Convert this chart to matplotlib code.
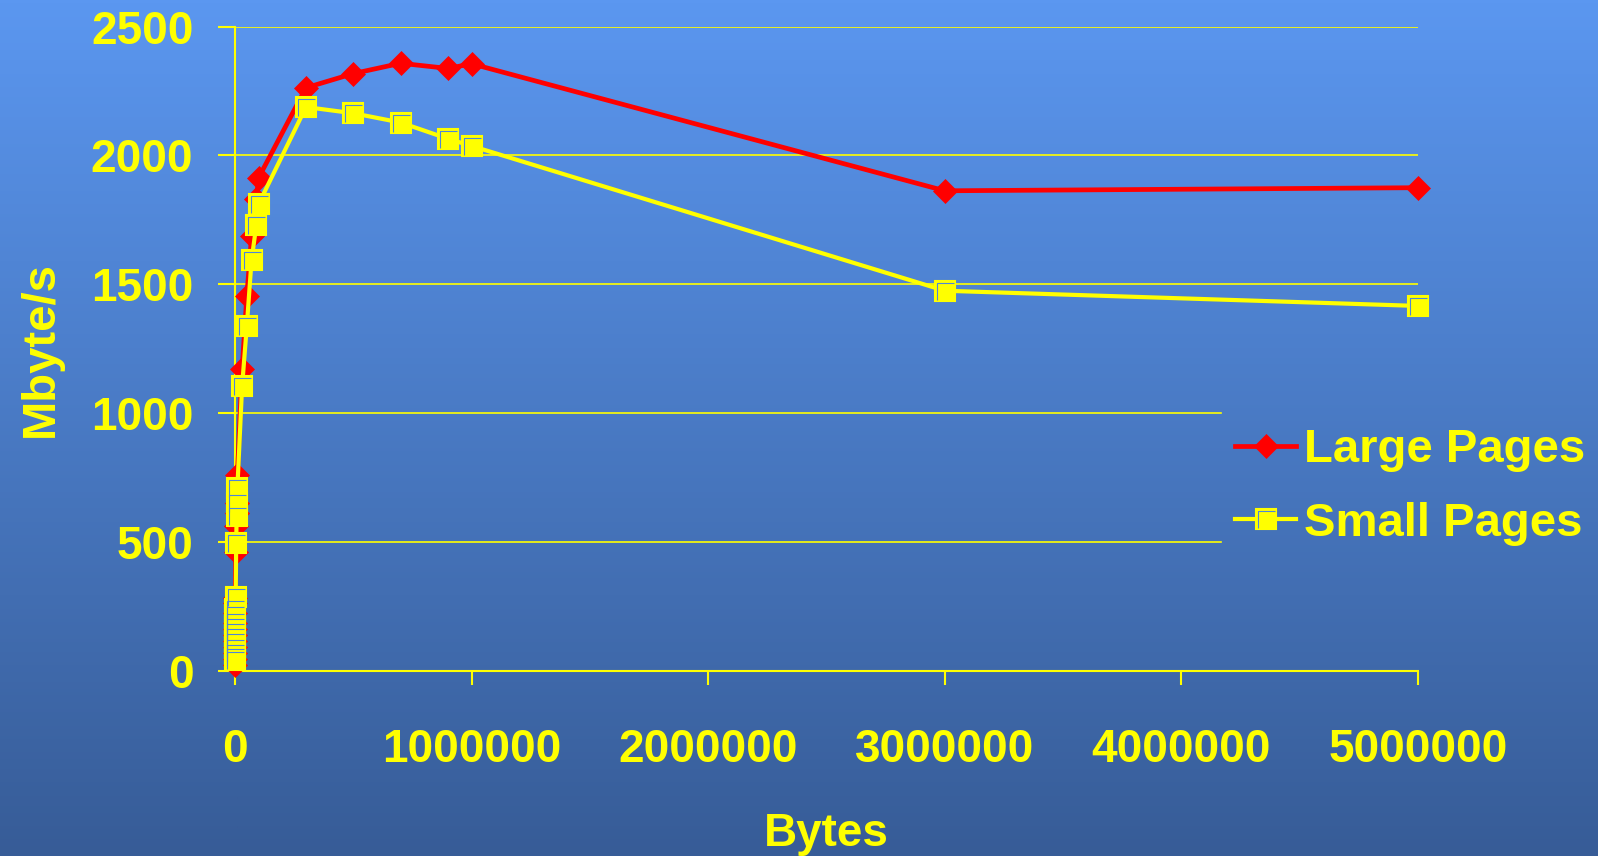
import numpy as np
import matplotlib
matplotlib.use('Agg')
import matplotlib.pyplot as plt
from matplotlib.path import Path
from matplotlib.colors import LinearSegmentedColormap
from matplotlib.legend_handler import HandlerTuple

# ---------------- data ----------------
sizes = [10, 30, 50, 70, 90, 100, 300, 500, 700, 900, 1000, 3000, 5000, 7000, 9000,
         10000, 30000, 50000, 70000, 90000, 100000, 300000, 500000, 700000, 900000,
         1000000, 3000000, 5000000]
large_pages = [22, 45, 68, 91, 115, 138, 160, 184, 223, 262, 282, 462, 560, 613, 651,
               760, 1171, 1456, 1687, 1830, 1914, 2263, 2318, 2358, 2338,
               2356, 1863, 1875]
small_pages = [40, 55, 70, 90, 110, 130, 150, 170, 190, 215, 240, 285, 497, 600, 650,
               709, 1104, 1339, 1594, 1729, 1812, 2188, 2164, 2128, 2065,
               2037, 1475, 1416]
series_labels = ['Large Pages', 'Small Pages']
x_ticks = [0, 1000000, 2000000, 3000000, 4000000, 5000000]
x_tick_labels = ['0', '1000000', '2000000', '3000000', '4000000', '5000000']
y_ticks = [0, 500, 1000, 1500, 2000, 2500]
y_tick_labels = ['0', '500', '1000', '1500', '2000', '2500']
x_label = 'Bytes'
y_label = 'Mbyte/s'

# ---------------- style ----------------
YELLOW = '#FFFF00'
RED = '#FF0000'
plt.rcParams['font.family'] = ['Liberation Sans', 'DejaVu Sans']
plt.rcParams['font.weight'] = 'bold'
FS = 33

fig = plt.figure(figsize=(15.98, 8.56), dpi=100)

# gradient background
bg = fig.add_axes([0, 0, 1, 1], zorder=-10)
grad = np.linspace(0, 1, 256).reshape(-1, 1)
cmap = LinearSegmentedColormap.from_list('bg', ['#5B97F0', '#375C97'])
bg.imshow(grad, aspect='auto', cmap=cmap, extent=[0, 1, 0, 1], origin='upper')
bg.set_axis_off()

ax = fig.add_axes([0.14706, 0.21647, 0.74030, 0.75234])
ax.set_facecolor('none')
ax.set_xlim(0, 5e6)
ax.set_ylim(0, 2500)

# gridlines (those behind the legend stop short of it)
legend_left_frac = 0.8335
for v in y_ticks[1:]:
    ax.axhline(v, xmin=0, xmax=(legend_left_frac if v in (500, 1000) else 1),
               color=YELLOW, lw=1.2, zorder=1)

l1, = ax.plot(sizes, large_pages, color=RED, lw=3.4, marker='D', ms=12.5,
              mfc=RED, mec=RED, mew=0.5, clip_on=False, zorder=3)
l2, = ax.plot(sizes, small_pages, color=YELLOW, lw=3.0, marker='s', ms=14.5,
              mfc=YELLOW, mec=YELLOW, mew=1.5, clip_on=False, zorder=4)
inner = Path([(0.5, 0.5), (-0.40, -0.45), (-0.40, 0.40), (0.45, 0.40)],
             [Path.MOVETO, Path.MOVETO, Path.LINETO, Path.LINETO])
l3, = ax.plot(sizes, small_pages, ls='none', marker=inner, ms=14.5, mfc='none',
              mec='#4E86D8', mew=0.8, clip_on=False, zorder=5)

ax.set_xticks(x_ticks, x_tick_labels)
ax.set_yticks(y_ticks, y_tick_labels)
ax.tick_params(axis='both', colors=YELLOW, labelsize=FS, width=1.5, direction='out')
ax.tick_params(axis='x', length=10, pad=31)
ax.tick_params(axis='y', length=12, pad=18)
for s in ['top', 'right']:
    ax.spines[s].set_visible(False)
for s in ['left', 'bottom']:
    ax.spines[s].set_color(YELLOW)
    ax.spines[s].set_linewidth(1.5)

ax.set_xlabel(x_label, fontsize=FS, color=YELLOW, fontweight='bold')
ax.xaxis.set_label_coords(0.5, -0.219)
ax.set_ylabel(y_label, fontsize=34, color=YELLOW, fontweight='bold')
ax.yaxis.set_label_coords(-0.1454, 0.5)

leg = fig.legend([l1, (l2, l3)], series_labels, loc='center left',
                 bbox_to_anchor=(1235 / 1598, (856 - 487) / 856),
                 frameon=False, fontsize=34, handlelength=1.3, handletextpad=0.17,
                 labelspacing=0.62, borderpad=0, borderaxespad=0, numpoints=1,
                 handler_map={tuple: HandlerTuple(ndivide=1)})
for t in leg.get_texts():
    t.set_color(YELLOW)

fig.savefig('out.png', dpi=100)
